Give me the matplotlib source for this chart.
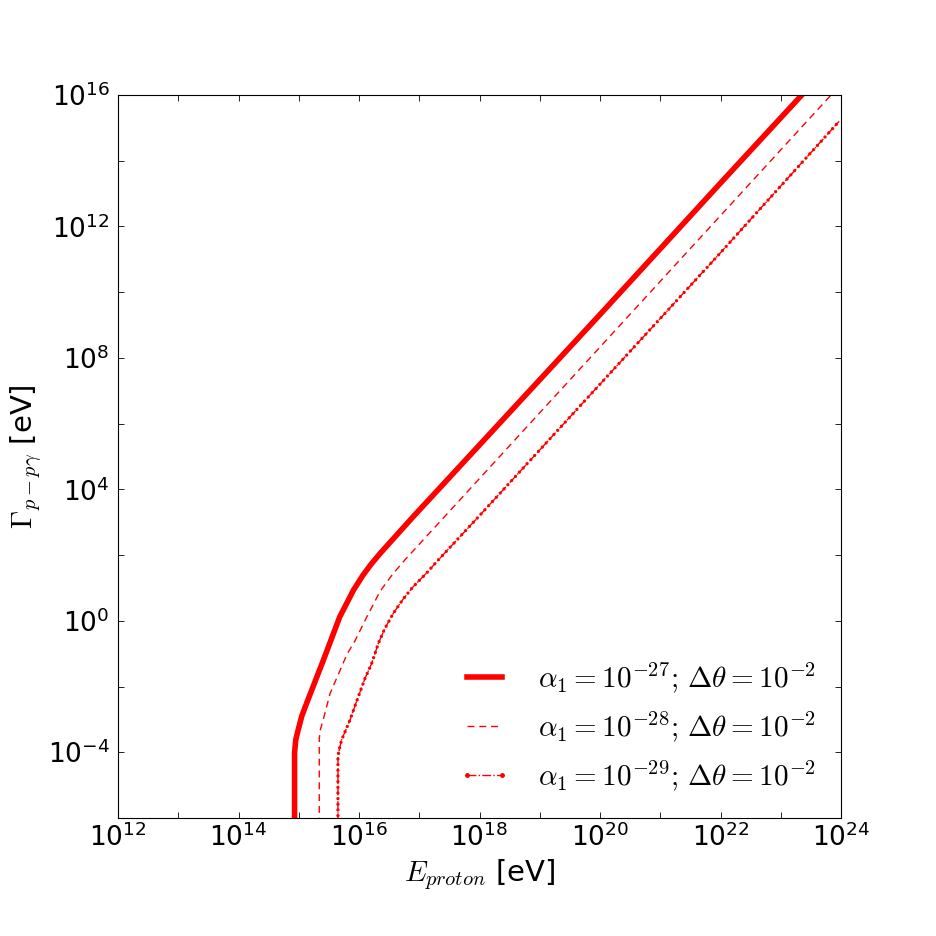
import numpy as np
import matplotlib.pyplot as plt
from matplotlib.lines import Line2D

plt.rcParams['font.family'] = 'DejaVu Sans'
plt.rcParams['mathtext.fontset'] = 'cm'

# log10 values (E in eV, Gamma in eV)
log_e_27 = [14.93, 14.93, 14.95, 14.99, 15.05, 15.13, 15.41, 15.68, 15.91, 16.07, 16.20, 16.35, 16.90, 17.46, 20.0, 22.0, 23.45]
log_g_27 = [-8.0, -4.02, -3.62, -3.32, -2.90, -2.51, -1.19, 0.12, 0.94, 1.40, 1.72, 2.05, 3.17, 4.28, 9.32, 13.32, 16.2]

log_e_28 = [15.34, 15.34, 15.36, 15.40, 15.52, 15.80, 15.93, 16.13, 16.35, 16.55, 16.76, 17.50, 20.0, 22.0, 23.85]
log_g_28 = [-8.0, -3.58, -3.30, -3.05, -2.21, -1.02, -0.62, 0.12, 0.90, 1.40, 1.85, 3.33, 8.33, 12.33, 16.03]

log_e_29 = [15.65, 15.65, 15.68, 15.71, 15.85, 15.96, 16.10, 16.21, 16.32, 16.43, 16.57, 16.74, 16.90, 17.12, 17.29, 18.01, 20.0, 22.0, 23.97]
log_g_29 = [-8.0, -4.13, -3.85, -3.63, -3.02, -2.45, -1.75, -1.30, -0.69, -0.23, 0.23, 0.68, 1.04, 1.45, 1.80, 3.22, 7.20, 11.20, 15.20]

labels = [r'$\alpha_1=10^{-27}; \,\Delta\theta=10^{-2}$',
          r'$\alpha_1=10^{-28}; \,\Delta\theta=10^{-2}$',
          r'$\alpha_1=10^{-29}; \,\Delta\theta=10^{-2}$']

fig = plt.figure(figsize=(9.36, 9.36), dpi=100)
ax = fig.add_axes([0.1261, 0.1261, 0.7724, 0.7724])

e27 = 10.0 ** np.array(log_e_27)
g27 = 10.0 ** np.array(log_g_27)
e28 = 10.0 ** np.array(log_e_28)
g28 = 10.0 ** np.array(log_g_28)
e29 = 10.0 ** np.array(log_e_29)
g29 = 10.0 ** np.array(log_g_29)

ax.plot(e27, g27, color='red', lw=4, solid_joinstyle='round')
ax.plot(e28, g28, color='red', lw=1, dashes=(5, 3.5))
ax.plot(e29, g29, color='red', lw=1, ls='-.')
ax.plot(e29, g29, color='red', lw=2.4, ls=(0, (0.001, 1.7)), dash_capstyle='round')

ax.set_xscale('log')
ax.set_yscale('log')
ax.set_xlim(1e12, 1e24)
ax.set_ylim(1e-6, 1e16)

xt = [10.0 ** k for k in range(12, 25)]
ax.set_xticks(xt)
ax.set_xticklabels([r'$\mathdefault{10^{%d}}$' % k if k % 2 == 0 else '' for k in range(12, 25)])
yt = [10.0 ** k for k in range(-6, 17, 2)]
ax.set_yticks(yt)
ax.set_yticklabels([r'$\mathdefault{10^{%d}}$' % k if k % 4 == 0 else '' for k in range(-6, 17, 2)])
ax.minorticks_off()
ax.tick_params(which='major', direction='in', length=4, width=0.6, top=True, right=True,
               labelsize=19)
ax.tick_params(axis='x', pad=4)
ax.tick_params(axis='y', pad=6)

ax.set_xlabel(r'$E_{proton}$ [eV]', fontsize=21, labelpad=4)
ax.set_ylabel(r'$\Gamma_{p-p\gamma}$ [eV]', fontsize=21, labelpad=2)

handles = [Line2D([], [], color='red', lw=4),
           Line2D([], [], color='red', lw=1, dashes=(5, 3.5)),
           Line2D([], [], color='red', lw=1, ls='-.', marker='.', ms=5)]
ax.legend(handles, labels, loc='lower right', frameon=False, fontsize=21,
          numpoints=2, handlelength=1.8, handletextpad=0.95, labelspacing=0.5,
          borderaxespad=0.45)

fig.savefig('out.png', dpi=100)
